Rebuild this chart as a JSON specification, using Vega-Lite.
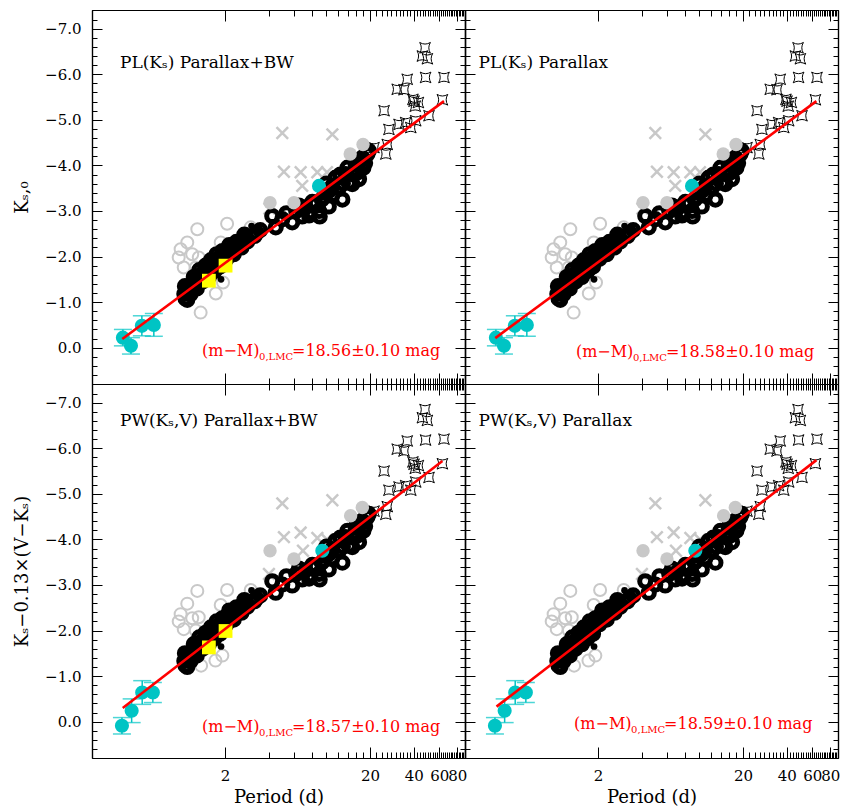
{
"$schema":"https://vega.github.io/schema/vega-lite/v6.json",
"background":"white",
"padding":{"left":13,"top":9,"right":1,"bottom":2},
"config":{"font":"DejaVu Serif","view":{"stroke":null},
 "axis":{"domainColor":"black","domainWidth":1.2,"tickColor":"black","tickWidth":1,"labelColor":"black","titleColor":"black","labelFont":"DejaVu Serif","titleFont":"DejaVu Serif","titleFontWeight":"normal","grid":false,"labelOverlap":false,"labelFlush":false,"labelFontSize":15,"titleFontSize":18}},
"datasets":{
"top":[
{"t":"s","P":47.9,"M":-6.58},{"t":"s","P":45.9,"M":-6.40},{"t":"s","P":49.7,"M":-6.34},{"t":"s","P":48.3,"M":-5.93},{"t":"s","P":64.7,"M":-5.93},{"t":"s","P":36.1,"M":-5.89},{"t":"s","P":30.8,"M":-5.67},{"t":"s","P":34.3,"M":-5.66},{"t":"s","P":40.2,"M":-5.41},{"t":"s","P":43.1,"M":-5.38},{"t":"s","P":63.1,"M":-5.44},{"t":"s","P":25.0,"M":-5.20},{"t":"s","P":31.7,"M":-4.90},{"t":"s","P":35.2,"M":-4.94},{"t":"s","P":38.2,"M":-4.83},{"t":"s","P":27.0,"M":-4.79},{"t":"s","P":51.0,"M":-5.09},{"t":"s","P":41.3,"M":-4.98},{"t":"s","P":21.3,"M":-4.39},{"t":"s","P":26.3,"M":-4.46},{"t":"s","P":25.7,"M":-4.25},{"t":"s","P":41.0,"M":-5.30},{"t":"s","P":39.5,"M":-5.45},
{"t":"o","P":1.29,"M":-2.60},{"t":"o","P":2.07,"M":-2.72},{"t":"o","P":1.87,"M":-2.31},{"t":"o","P":3.01,"M":-2.64},{"t":"o","P":0.99,"M":-2.16},{"t":"o","P":0.96,"M":-1.98},{"t":"o","P":1.10,"M":-2.31},{"t":"o","P":1.19,"M":-2.05},{"t":"o","P":1.32,"M":-1.98},{"t":"o","P":1.04,"M":-1.76},{"t":"o","P":1.26,"M":-1.76},{"t":"o","P":1.94,"M":-1.43},{"t":"o","P":1.73,"M":-1.19},{"t":"o","P":1.36,"M":-0.77},
{"t":"x","P":4.97,"M":-4.71},{"t":"x","P":11.0,"M":-4.68},{"t":"x","P":5.1,"M":-3.86},{"t":"x","P":6.65,"M":-3.85},{"t":"x","P":8.67,"M":-3.85},{"t":"x","P":10.1,"M":-3.85},{"t":"x","P":6.82,"M":-3.55},{"t":"x","P":4.05,"M":-3.05},
{"t":"k","P":1.05,"M":-1.18},{"t":"k","P":1.07,"M":-1.08},{"t":"k","P":1.09,"M":-1.30},{"t":"k","P":1.12,"M":-1.20},{"t":"k","P":1.15,"M":-1.36},{"t":"k","P":1.18,"M":-1.26},{"t":"k","P":1.21,"M":-1.42},{"t":"k","P":1.24,"M":-1.33},{"t":"k","P":1.27,"M":-1.50},{"t":"k","P":1.30,"M":-1.42},{"t":"k","P":1.34,"M":-1.58},{"t":"k","P":1.37,"M":-1.50},{"t":"k","P":1.41,"M":-1.64},{"t":"k","P":1.45,"M":-1.57},{"t":"k","P":1.49,"M":-1.72},{"t":"k","P":1.53,"M":-1.65},{"t":"k","P":1.58,"M":-1.80},{"t":"k","P":1.62,"M":-1.74},{"t":"k","P":1.67,"M":-1.87},{"t":"k","P":1.72,"M":-1.80},{"t":"k","P":1.77,"M":-1.94},{"t":"k","P":1.83,"M":-1.88},{"t":"k","P":1.89,"M":-2.01},{"t":"k","P":1.95,"M":-1.96},{"t":"k","P":2.02,"M":-2.10},{"t":"k","P":2.10,"M":-2.06},{"t":"k","P":2.18,"M":-2.16},{"t":"k","P":2.27,"M":-2.13},{"t":"k","P":2.36,"M":-2.22},{"t":"k","P":2.46,"M":-2.20},{"t":"k","P":2.56,"M":-2.30},{"t":"k","P":2.67,"M":-2.36},{"t":"k","P":2.78,"M":-2.42},{"t":"k","P":2.85,"M":-2.33},
{"t":"k","P":1.06,"M":-1.35},{"t":"k","P":1.10,"M":-1.05},{"t":"k","P":1.16,"M":-1.18},{"t":"k","P":1.22,"M":-1.55},{"t":"k","P":1.28,"M":-1.30},{"t":"k","P":1.33,"M":-1.70},{"t":"k","P":1.40,"M":-1.45},{"t":"k","P":1.47,"M":-1.80},{"t":"k","P":1.55,"M":-1.55},{"t":"k","P":1.60,"M":-1.92},{"t":"k","P":1.70,"M":-1.68},{"t":"k","P":1.75,"M":-2.05},{"t":"k","P":1.85,"M":-1.78},{"t":"k","P":1.92,"M":-2.12},{"t":"k","P":2.05,"M":-1.95},{"t":"k","P":2.14,"M":-2.25},{"t":"k","P":2.30,"M":-2.05},{"t":"k","P":2.40,"M":-2.32},{"t":"k","P":2.60,"M":-2.20},{"t":"k","P":2.72,"M":-2.48},
{"t":"d","P":1.88,"M":-1.50},{"t":"d","P":3.05,"M":-2.67},
{"t":"k","P":3.2,"M":-2.45},{"t":"k","P":3.3,"M":-2.52},{"t":"k","P":3.5,"M":-2.58},{"t":"k","P":4.24,"M":-2.89},{"t":"k","P":4.48,"M":-2.64},{"t":"k","P":4.97,"M":-2.82},{"t":"k","P":5.3,"M":-2.95},{"t":"k","P":5.82,"M":-2.75},{"t":"k","P":6.2,"M":-3.00},{"t":"k","P":6.47,"M":-3.12},{"t":"k","P":6.82,"M":-2.88},{"t":"k","P":7.2,"M":-3.08},{"t":"k","P":7.59,"M":-2.97},{"t":"k","P":8.0,"M":-3.20},{"t":"k","P":8.45,"M":-3.15},{"t":"k","P":7.6,"M":-2.90},{"t":"k","P":9.0,"M":-2.88},{"t":"k","P":8.9,"M":-3.00},{"t":"k","P":9.3,"M":-3.25},{"t":"k","P":9.8,"M":-3.40},{"t":"k","P":10.4,"M":-3.44},{"t":"k","P":10.4,"M":-3.10},{"t":"k","P":11.0,"M":-3.55},{"t":"k","P":11.6,"M":-3.73},{"t":"k","P":12.2,"M":-3.51},{"t":"k","P":12.9,"M":-3.25},{"t":"k","P":13.6,"M":-3.81},{"t":"k","P":14.3,"M":-3.62},{"t":"k","P":15.1,"M":-3.59},{"t":"k","P":15.9,"M":-4.03},{"t":"k","P":16.5,"M":-3.85},{"t":"k","P":17.2,"M":-4.10},{"t":"k","P":17.7,"M":-4.17},{"t":"k","P":18.5,"M":-4.05},{"t":"k","P":19.2,"M":-4.25},{"t":"k","P":19.6,"M":-4.32},{"t":"k","P":14.0,"M":-3.95},{"t":"k","P":12.5,"M":-3.80},{"t":"k","P":11.0,"M":-3.35},{"t":"k","P":16.8,"M":-3.70},{"t":"k","P":10.0,"M":-3.60},{"t":"k","P":13.0,"M":-3.60},{"t":"k","P":15.5,"M":-3.80},{"t":"k","P":18.0,"M":-3.95},
{"t":"g","P":4.09,"M":-3.18},{"t":"g","P":5.98,"M":-3.18},{"t":"g","P":14.6,"M":-4.25},{"t":"g","P":17.9,"M":-4.46},
{"t":"y","P":2.02,"M":-1.80},{"t":"y","P":1.55,"M":-1.47},
{"t":"c","P":0.396,"M":-0.22,"lo":-0.40,"hi":-0.04},{"t":"c","P":0.45,"M":-0.04,"lo":-0.22,"hi":0.14},{"t":"c","P":0.535,"M":-0.48,"lo":-0.70,"hi":-0.26},{"t":"c","P":0.647,"M":-0.50,"lo":-0.75,"hi":-0.25},{"t":"c","P":8.9,"M":-3.55}
],
"bot":[
{"t":"s","P":47.9,"M":-6.85},{"t":"s","P":45.9,"M":-6.67},{"t":"s","P":49.7,"M":-6.61},{"t":"s","P":48.3,"M":-6.18},{"t":"s","P":64.7,"M":-6.20},{"t":"s","P":36.1,"M":-6.16},{"t":"s","P":30.8,"M":-5.98},{"t":"s","P":34.3,"M":-5.94},{"t":"s","P":40.2,"M":-5.65},{"t":"s","P":43.1,"M":-5.62},{"t":"s","P":63.1,"M":-5.66},{"t":"s","P":25.0,"M":-5.50},{"t":"s","P":31.7,"M":-5.15},{"t":"s","P":35.2,"M":-5.18},{"t":"s","P":38.2,"M":-5.08},{"t":"s","P":27.0,"M":-5.08},{"t":"s","P":51.0,"M":-5.36},{"t":"s","P":41.3,"M":-5.26},{"t":"s","P":21.3,"M":-4.62},{"t":"s","P":26.3,"M":-4.72},{"t":"s","P":25.7,"M":-4.55},{"t":"s","P":41.0,"M":-5.56},{"t":"s","P":39.5,"M":-5.70},
{"t":"o","P":1.29,"M":-2.87},{"t":"o","P":2.07,"M":-2.89},{"t":"o","P":1.87,"M":-2.56},{"t":"o","P":3.01,"M":-2.89},{"t":"o","P":0.99,"M":-2.36},{"t":"o","P":0.96,"M":-2.20},{"t":"o","P":1.10,"M":-2.59},{"t":"o","P":1.19,"M":-2.27},{"t":"o","P":1.32,"M":-2.29},{"t":"o","P":1.04,"M":-2.03},{"t":"o","P":1.26,"M":-2.00},{"t":"o","P":1.92,"M":-1.45},{"t":"o","P":1.72,"M":-1.34},{"t":"o","P":1.37,"M":-1.23},
{"t":"x","P":4.97,"M":-4.79},{"t":"x","P":11.0,"M":-4.86},{"t":"x","P":5.1,"M":-4.05},{"t":"x","P":6.65,"M":-4.15},{"t":"x","P":8.67,"M":-4.03},{"t":"x","P":10.1,"M":-4.00},{"t":"x","P":4.02,"M":-3.24},{"t":"x","P":6.9,"M":-3.75},
{"t":"k","P":1.05,"M":-1.33},{"t":"k","P":1.07,"M":-1.23},{"t":"k","P":1.09,"M":-1.45},{"t":"k","P":1.12,"M":-1.35},{"t":"k","P":1.15,"M":-1.51},{"t":"k","P":1.18,"M":-1.41},{"t":"k","P":1.21,"M":-1.57},{"t":"k","P":1.24,"M":-1.48},{"t":"k","P":1.27,"M":-1.65},{"t":"k","P":1.30,"M":-1.57},{"t":"k","P":1.34,"M":-1.73},{"t":"k","P":1.37,"M":-1.65},{"t":"k","P":1.41,"M":-1.79},{"t":"k","P":1.45,"M":-1.72},{"t":"k","P":1.49,"M":-1.87},{"t":"k","P":1.53,"M":-1.80},{"t":"k","P":1.58,"M":-1.95},{"t":"k","P":1.62,"M":-1.89},{"t":"k","P":1.67,"M":-2.02},{"t":"k","P":1.72,"M":-1.95},{"t":"k","P":1.77,"M":-2.09},{"t":"k","P":1.83,"M":-2.03},{"t":"k","P":1.89,"M":-2.16},{"t":"k","P":1.95,"M":-2.11},{"t":"k","P":2.02,"M":-2.29},{"t":"k","P":2.10,"M":-2.25},{"t":"k","P":2.18,"M":-2.35},{"t":"k","P":2.27,"M":-2.32},{"t":"k","P":2.36,"M":-2.41},{"t":"k","P":2.46,"M":-2.39},{"t":"k","P":2.56,"M":-2.49},{"t":"k","P":2.67,"M":-2.55},{"t":"k","P":2.78,"M":-2.61},{"t":"k","P":2.85,"M":-2.52},
{"t":"k","P":1.06,"M":-1.50},{"t":"k","P":1.10,"M":-1.20},{"t":"k","P":1.16,"M":-1.33},{"t":"k","P":1.22,"M":-1.70},{"t":"k","P":1.28,"M":-1.45},{"t":"k","P":1.33,"M":-1.85},{"t":"k","P":1.40,"M":-1.60},{"t":"k","P":1.47,"M":-1.95},{"t":"k","P":1.55,"M":-1.70},{"t":"k","P":1.60,"M":-2.07},{"t":"k","P":1.70,"M":-1.83},{"t":"k","P":1.75,"M":-2.20},{"t":"k","P":1.85,"M":-1.93},{"t":"k","P":1.92,"M":-2.27},{"t":"k","P":2.05,"M":-2.14},{"t":"k","P":2.14,"M":-2.44},{"t":"k","P":2.30,"M":-2.24},{"t":"k","P":2.40,"M":-2.51},{"t":"k","P":2.60,"M":-2.39},{"t":"k","P":2.72,"M":-2.67},
{"t":"d","P":1.88,"M":-1.65},{"t":"d","P":3.05,"M":-2.88},
{"t":"k","P":3.2,"M":-2.64},{"t":"k","P":3.3,"M":-2.71},{"t":"k","P":3.5,"M":-2.77},{"t":"k","P":4.24,"M":-3.08},{"t":"k","P":4.48,"M":-2.83},{"t":"k","P":4.97,"M":-3.01},{"t":"k","P":5.3,"M":-3.19},{"t":"k","P":5.82,"M":-2.99},{"t":"k","P":6.2,"M":-3.24},{"t":"k","P":6.47,"M":-3.36},{"t":"k","P":6.82,"M":-3.12},{"t":"k","P":7.2,"M":-3.32},{"t":"k","P":7.59,"M":-3.21},{"t":"k","P":8.0,"M":-3.44},{"t":"k","P":8.45,"M":-3.39},{"t":"k","P":7.6,"M":-3.14},{"t":"k","P":9.0,"M":-3.12},{"t":"k","P":8.9,"M":-3.24},{"t":"k","P":9.3,"M":-3.49},{"t":"k","P":9.8,"M":-3.64},{"t":"k","P":10.4,"M":-3.68},{"t":"k","P":10.4,"M":-3.34},{"t":"k","P":11.0,"M":-3.79},{"t":"k","P":11.6,"M":-3.97},{"t":"k","P":12.2,"M":-3.75},{"t":"k","P":12.9,"M":-3.49},{"t":"k","P":13.6,"M":-4.05},{"t":"k","P":14.3,"M":-3.86},{"t":"k","P":15.1,"M":-3.83},{"t":"k","P":15.9,"M":-4.27},{"t":"k","P":16.5,"M":-4.09},{"t":"k","P":17.2,"M":-4.34},{"t":"k","P":17.7,"M":-4.41},{"t":"k","P":18.5,"M":-4.29},{"t":"k","P":19.2,"M":-4.49},{"t":"k","P":19.6,"M":-4.56},{"t":"k","P":14.0,"M":-4.19},{"t":"k","P":12.5,"M":-4.04},{"t":"k","P":11.0,"M":-3.59},{"t":"k","P":16.8,"M":-3.94},{"t":"k","P":10.0,"M":-3.84},{"t":"k","P":13.0,"M":-3.84},{"t":"k","P":15.5,"M":-4.04},{"t":"k","P":18.0,"M":-4.19},
{"t":"g","P":4.09,"M":-3.75},{"t":"g","P":5.98,"M":-3.57},{"t":"g","P":14.7,"M":-4.52},{"t":"g","P":17.7,"M":-4.70},
{"t":"y","P":2.02,"M":-1.99},{"t":"y","P":1.55,"M":-1.63},
{"t":"c","P":0.39,"M":0.09,"lo":-0.09,"hi":0.27},{"t":"c","P":0.455,"M":-0.24,"lo":-0.50,"hi":0.02},{"t":"c","P":0.538,"M":-0.64,"lo":-0.90,"hi":-0.38},{"t":"c","P":0.637,"M":-0.64,"lo":-0.86,"hi":-0.42},{"t":"c","P":9.38,"M":-3.75}
],
"lines":[
{"panel":"TL","P":0.392,"M":-0.19},{"panel":"TL","P":64.7,"M":-5.41},
{"panel":"TR","P":0.392,"M":-0.21},{"panel":"TR","P":64.1,"M":-5.41},
{"panel":"BL","P":0.395,"M":-0.30},{"panel":"BL","P":63.1,"M":-5.72},
{"panel":"BR","P":0.40,"M":-0.33},{"panel":"BR","P":64.1,"M":-5.74}
],
"labels":[
{"panel":"TL","kind":"title","P":0.378,"M":-6.14,"txt":"PL(Kₛ) Parallax+BW"},
{"panel":"TR","kind":"title","P":0.301,"M":-6.14,"txt":"PL(Kₛ) Parallax"},
{"panel":"BL","kind":"title","P":0.378,"M":-6.49,"txt":"PW(Kₛ,V) Parallax+BW"},
{"panel":"BR","kind":"title","P":0.301,"M":-6.49,"txt":"PW(Kₛ,V) Parallax"},
{"panel":"TL","kind":"a","P":1.39,"M":0.18,"txt":"(m−M)"},
{"panel":"TL","kind":"b","P":1.39,"M":0.18,"txt":"0,LMC"},
{"panel":"TL","kind":"c","P":1.39,"M":0.18,"txt":"=18.56±0.10 mag"},
{"panel":"TR","kind":"a","P":1.41,"M":0.20,"txt":"(m−M)"},
{"panel":"TR","kind":"b","P":1.41,"M":0.20,"txt":"0,LMC"},
{"panel":"TR","kind":"c","P":1.41,"M":0.20,"txt":"=18.58±0.10 mag"},
{"panel":"BL","kind":"a","P":1.39,"M":0.22,"txt":"(m−M)"},
{"panel":"BL","kind":"b","P":1.39,"M":0.22,"txt":"0,LMC"},
{"panel":"BL","kind":"c","P":1.39,"M":0.22,"txt":"=18.57±0.10 mag"},
{"panel":"BR","kind":"a","P":1.37,"M":0.16,"txt":"(m−M)"},
{"panel":"BR","kind":"b","P":1.37,"M":0.16,"txt":"0,LMC"},
{"panel":"BR","kind":"c","P":1.37,"M":0.16,"txt":"=18.59±0.10 mag"}
]
},
"columns":2,
"spacing":0,
"bounds":"flush",
"concat":[
{"width":373,"height":374,
 "encoding":{"x":{"field":"P","type":"quantitative","scale":{"type":"log","domain":[0.2425,90.3],"nice":false},"axis":null},"y":{"field":"M","type":"quantitative","scale":{"domain":[-7.41,0.797],"reverse":true,"nice":false,"zero":false},"axis":null}},
 "layer":[
  {"data":{"name":"top"},"transform":[{"filter":"datum.t==='s'"}],"mark":{"type":"point","shape":"M -1 -1 Q 0 -0.4 1 -1 Q 0.4 0 1 1 Q 0 0.4 -1 1 Q -0.4 0 -1 -1 Z","filled":false,"color":"black","strokeWidth":1,"size":115,"opacity":1},
   "encoding":{"x":{"field":"P","type":"quantitative","scale":{"type":"log","domain":[0.2425,90.3],"nice":false},"axis":{"orient":"bottom","values":[2,20,40,60,80],"tickSize":-11,"labels":false,"title":null}},
    "y":{"field":"M","type":"quantitative","scale":{"domain":[-7.41,0.797],"reverse":true,"nice":false,"zero":false},"axis":{"orient":"left","values":[-7,-6,-5,-4,-3,-2,-1,0],"tickSize":-10,"format":".1f","labelPadding":21,"title":"Kₛ,₀","titlePadding":13}}}},
  {"data":{"name":"top"},"transform":[{"filter":"datum.t==='o'"}],"mark":{"type":"point","shape":"circle","filled":false,"color":"#c8c8c8","strokeWidth":2,"size":144,"opacity":1},
   "encoding":{"x":{"field":"P","type":"quantitative","scale":{"type":"log","domain":[0.2425,90.3],"nice":false},"axis":{"orient":"top","values":[2,20,40,60,80],"tickSize":-11,"labels":false,"title":null}},
    "y":{"field":"M","type":"quantitative","scale":{"domain":[-7.41,0.797],"reverse":true,"nice":false,"zero":false},"axis":{"orient":"right","values":[-7,-6,-5,-4,-3,-2,-1,0],"tickSize":-10,"labels":false,"title":null}}}},
  {"data":{"name":"top"},"transform":[{"filter":"datum.t==='x'"}],"mark":{"type":"point","shape":"M -1 -1 L 1 1 M -1 1 L 1 -1","filled":false,"color":"#c8c8c8","strokeWidth":2.5,"size":135,"opacity":1},
   "encoding":{"x":{"field":"P","type":"quantitative","scale":{"type":"log","domain":[0.2425,90.3],"nice":false},"axis":{"orient":"bottom","values":[4,6,8,10,12,14,16,18,22,24,26,28,30,32,34,36,38,42,44,46,48,50,52,54,56,58,62,64,66,68,70,72,74,76,78,82,84,86,88],"tickSize":-6,"labels":false,"title":null}},
    "y":{"field":"M","type":"quantitative","scale":{"domain":[-7.41,0.797],"reverse":true,"nice":false,"zero":false},"axis":{"orient":"left","values":[-7.4,-7.2,-6.8,-6.6,-6.4,-6.2,-5.8,-5.6,-5.4,-5.2,-4.8,-4.6,-4.4,-4.2,-3.8,-3.6,-3.4,-3.2,-2.8,-2.6,-2.4,-2.2,-1.8,-1.6,-1.4,-1.2,-0.8,-0.6,-0.4,-0.2,0.2,0.4,0.6],"tickSize":-5,"labels":false,"title":null}}}},
  {"data":{"name":"top"},"transform":[{"filter":"datum.t==='k'"}],"mark":{"type":"point","shape":"circle","filled":false,"color":"black","strokeWidth":5,"size":125,"opacity":1},
   "encoding":{"x":{"field":"P","type":"quantitative","scale":{"type":"log","domain":[0.2425,90.3],"nice":false},"axis":{"orient":"top","values":[4,6,8,10,12,14,16,18,22,24,26,28,30,32,34,36,38,42,44,46,48,50,52,54,56,58,62,64,66,68,70,72,74,76,78,82,84,86,88],"tickSize":-6,"labels":false,"title":null}},
    "y":{"field":"M","type":"quantitative","scale":{"domain":[-7.41,0.797],"reverse":true,"nice":false,"zero":false},"axis":{"orient":"right","values":[-7.4,-7.2,-6.8,-6.6,-6.4,-6.2,-5.8,-5.6,-5.4,-5.2,-4.8,-4.6,-4.4,-4.2,-3.8,-3.6,-3.4,-3.2,-2.8,-2.6,-2.4,-2.2,-1.8,-1.6,-1.4,-1.2,-0.8,-0.6,-0.4,-0.2,0.2,0.4,0.6],"tickSize":-5,"labels":false,"title":null}}}},
  {"data":{"name":"top"},"transform":[{"filter":"datum.t==='d'"}],"mark":{"type":"circle","color":"black","size":45,"opacity":1}},
  {"data":{"name":"top"},"transform":[{"filter":"datum.t==='g'"}],"mark":{"type":"circle","color":"#c8c8c8","size":180,"opacity":1}},
  {"data":{"name":"top"},"transform":[{"filter":"datum.t==='y'"}],"mark":{"type":"square","color":"#ffff00","size":190,"opacity":1}},
  {"data":{"name":"top"},"transform":[{"filter":"datum.t==='c' && isValid(datum.lo)"}],"mark":{"type":"rule","color":"#00c4c4","strokeWidth":1.5},"encoding":{"y":{"field":"lo","type":"quantitative","scale":{"domain":[-7.41,0.797],"reverse":true,"nice":false,"zero":false},"axis":null},"y2":{"field":"hi"}}},
  {"data":{"name":"top"},"transform":[{"filter":"datum.t==='c' && isValid(datum.lo)"}],"mark":{"type":"tick","orient":"horizontal","color":"#00c4c4","size":18,"thickness":1.5},"encoding":{"y":{"field":"lo","type":"quantitative","scale":{"domain":[-7.41,0.797],"reverse":true,"nice":false,"zero":false},"axis":null}}},
  {"data":{"name":"top"},"transform":[{"filter":"datum.t==='c' && isValid(datum.lo)"}],"mark":{"type":"tick","orient":"horizontal","color":"#00c4c4","size":18,"thickness":1.5},"encoding":{"y":{"field":"hi","type":"quantitative","scale":{"domain":[-7.41,0.797],"reverse":true,"nice":false,"zero":false},"axis":null}}},
  {"data":{"name":"top"},"transform":[{"filter":"datum.t==='c'"}],"mark":{"type":"circle","color":"#00c4c4","size":200,"opacity":1}},
  {"data":{"name":"lines"},"transform":[{"filter":"datum.panel==='TL'"}],"mark":{"type":"line","color":"#ff0000","strokeWidth":2.6}},
  {"data":{"name":"labels"},"transform":[{"filter":"datum.panel==='TL' && datum.kind==='title'"}],"mark":{"type":"text","align":"left","baseline":"alphabetic","fontSize":17,"font":"DejaVu Serif","color":"black"},"encoding":{"text":{"field":"txt"}}},
  {"data":{"name":"labels"},"transform":[{"filter":"datum.panel==='TL' && datum.kind==='a'"}],"mark":{"type":"text","align":"left","baseline":"alphabetic","fontSize":16,"font":"DejaVu Serif","color":"#ff0000"},"encoding":{"text":{"field":"txt"}}},
  {"data":{"name":"labels"},"transform":[{"filter":"datum.panel==='TL' && datum.kind==='b'"}],"mark":{"type":"text","align":"left","baseline":"alphabetic","fontSize":10,"font":"DejaVu Serif","color":"#ff0000","dx":57,"dy":4},"encoding":{"text":{"field":"txt"}}},
  {"data":{"name":"labels"},"transform":[{"filter":"datum.panel==='TL' && datum.kind==='c'"}],"mark":{"type":"text","align":"left","baseline":"alphabetic","fontSize":16,"font":"DejaVu Serif","color":"#ff0000","dx":90},"encoding":{"text":{"field":"txt"}}}
 ],
 "resolve":{"axis":{"x":"independent","y":"independent"}}},
{"width":373,"height":374,
 "encoding":{"x":{"field":"P","type":"quantitative","scale":{"type":"log","domain":[0.2425,90.3],"nice":false},"axis":null},"y":{"field":"M","type":"quantitative","scale":{"domain":[-7.41,0.797],"reverse":true,"nice":false,"zero":false},"axis":null}},
 "layer":[
  {"data":{"name":"top"},"transform":[{"filter":"datum.t==='s'"}],"mark":{"type":"point","shape":"M -1 -1 Q 0 -0.4 1 -1 Q 0.4 0 1 1 Q 0 0.4 -1 1 Q -0.4 0 -1 -1 Z","filled":false,"color":"black","strokeWidth":1,"size":115,"opacity":1},
   "encoding":{"x":{"field":"P","type":"quantitative","scale":{"type":"log","domain":[0.2425,90.3],"nice":false},"axis":{"orient":"bottom","values":[2,20,40,60,80],"tickSize":-11,"labels":false,"title":null}},
    "y":{"field":"M","type":"quantitative","scale":{"domain":[-7.41,0.797],"reverse":true,"nice":false,"zero":false},"axis":{"orient":"left","values":[-7,-6,-5,-4,-3,-2,-1,0],"tickSize":-10,"labels":false,"title":null}}}},
  {"data":{"name":"top"},"transform":[{"filter":"datum.t==='o'"}],"mark":{"type":"point","shape":"circle","filled":false,"color":"#c8c8c8","strokeWidth":2,"size":144,"opacity":1},
   "encoding":{"x":{"field":"P","type":"quantitative","scale":{"type":"log","domain":[0.2425,90.3],"nice":false},"axis":{"orient":"top","values":[2,20,40,60,80],"tickSize":-11,"labels":false,"title":null}},
    "y":{"field":"M","type":"quantitative","scale":{"domain":[-7.41,0.797],"reverse":true,"nice":false,"zero":false},"axis":{"orient":"right","values":[-7,-6,-5,-4,-3,-2,-1,0],"tickSize":-10,"labels":false,"title":null}}}},
  {"data":{"name":"top"},"transform":[{"filter":"datum.t==='x'"}],"mark":{"type":"point","shape":"M -1 -1 L 1 1 M -1 1 L 1 -1","filled":false,"color":"#c8c8c8","strokeWidth":2.5,"size":135,"opacity":1},
   "encoding":{"x":{"field":"P","type":"quantitative","scale":{"type":"log","domain":[0.2425,90.3],"nice":false},"axis":{"orient":"bottom","values":[4,6,8,10,12,14,16,18,22,24,26,28,30,32,34,36,38,42,44,46,48,50,52,54,56,58,62,64,66,68,70,72,74,76,78,82,84,86,88],"tickSize":-6,"labels":false,"title":null}},
    "y":{"field":"M","type":"quantitative","scale":{"domain":[-7.41,0.797],"reverse":true,"nice":false,"zero":false},"axis":{"orient":"left","values":[-7.4,-7.2,-6.8,-6.6,-6.4,-6.2,-5.8,-5.6,-5.4,-5.2,-4.8,-4.6,-4.4,-4.2,-3.8,-3.6,-3.4,-3.2,-2.8,-2.6,-2.4,-2.2,-1.8,-1.6,-1.4,-1.2,-0.8,-0.6,-0.4,-0.2,0.2,0.4,0.6],"tickSize":-5,"labels":false,"title":null}}}},
  {"data":{"name":"top"},"transform":[{"filter":"datum.t==='k'"}],"mark":{"type":"point","shape":"circle","filled":false,"color":"black","strokeWidth":5,"size":125,"opacity":1},
   "encoding":{"x":{"field":"P","type":"quantitative","scale":{"type":"log","domain":[0.2425,90.3],"nice":false},"axis":{"orient":"top","values":[4,6,8,10,12,14,16,18,22,24,26,28,30,32,34,36,38,42,44,46,48,50,52,54,56,58,62,64,66,68,70,72,74,76,78,82,84,86,88],"tickSize":-6,"labels":false,"title":null}},
    "y":{"field":"M","type":"quantitative","scale":{"domain":[-7.41,0.797],"reverse":true,"nice":false,"zero":false},"axis":{"orient":"right","values":[-7.4,-7.2,-6.8,-6.6,-6.4,-6.2,-5.8,-5.6,-5.4,-5.2,-4.8,-4.6,-4.4,-4.2,-3.8,-3.6,-3.4,-3.2,-2.8,-2.6,-2.4,-2.2,-1.8,-1.6,-1.4,-1.2,-0.8,-0.6,-0.4,-0.2,0.2,0.4,0.6],"tickSize":-5,"labels":false,"title":null}}}},
  {"data":{"name":"top"},"transform":[{"filter":"datum.t==='d'"}],"mark":{"type":"circle","color":"black","size":45,"opacity":1}},
  {"data":{"name":"top"},"transform":[{"filter":"datum.t==='g'"}],"mark":{"type":"circle","color":"#c8c8c8","size":180,"opacity":1}},
  {"data":{"name":"top"},"transform":[{"filter":"datum.t==='c' && isValid(datum.lo)"}],"mark":{"type":"rule","color":"#00c4c4","strokeWidth":1.5},"encoding":{"y":{"field":"lo","type":"quantitative","scale":{"domain":[-7.41,0.797],"reverse":true,"nice":false,"zero":false},"axis":null},"y2":{"field":"hi"}}},
  {"data":{"name":"top"},"transform":[{"filter":"datum.t==='c' && isValid(datum.lo)"}],"mark":{"type":"tick","orient":"horizontal","color":"#00c4c4","size":18,"thickness":1.5},"encoding":{"y":{"field":"lo","type":"quantitative","scale":{"domain":[-7.41,0.797],"reverse":true,"nice":false,"zero":false},"axis":null}}},
  {"data":{"name":"top"},"transform":[{"filter":"datum.t==='c' && isValid(datum.lo)"}],"mark":{"type":"tick","orient":"horizontal","color":"#00c4c4","size":18,"thickness":1.5},"encoding":{"y":{"field":"hi","type":"quantitative","scale":{"domain":[-7.41,0.797],"reverse":true,"nice":false,"zero":false},"axis":null}}},
  {"data":{"name":"top"},"transform":[{"filter":"datum.t==='c'"}],"mark":{"type":"circle","color":"#00c4c4","size":200,"opacity":1}},
  {"data":{"name":"lines"},"transform":[{"filter":"datum.panel==='TR'"}],"mark":{"type":"line","color":"#ff0000","strokeWidth":2.6}},
  {"data":{"name":"labels"},"transform":[{"filter":"datum.panel==='TR' && datum.kind==='title'"}],"mark":{"type":"text","align":"left","baseline":"alphabetic","fontSize":17,"font":"DejaVu Serif","color":"black"},"encoding":{"text":{"field":"txt"}}},
  {"data":{"name":"labels"},"transform":[{"filter":"datum.panel==='TR' && datum.kind==='a'"}],"mark":{"type":"text","align":"left","baseline":"alphabetic","fontSize":16,"font":"DejaVu Serif","color":"#ff0000"},"encoding":{"text":{"field":"txt"}}},
  {"data":{"name":"labels"},"transform":[{"filter":"datum.panel==='TR' && datum.kind==='b'"}],"mark":{"type":"text","align":"left","baseline":"alphabetic","fontSize":10,"font":"DejaVu Serif","color":"#ff0000","dx":57,"dy":4},"encoding":{"text":{"field":"txt"}}},
  {"data":{"name":"labels"},"transform":[{"filter":"datum.panel==='TR' && datum.kind==='c'"}],"mark":{"type":"text","align":"left","baseline":"alphabetic","fontSize":16,"font":"DejaVu Serif","color":"#ff0000","dx":90},"encoding":{"text":{"field":"txt"}}}
 ],
 "resolve":{"axis":{"x":"independent","y":"independent"}}},
{"width":373,"height":374,
 "encoding":{"x":{"field":"P","type":"quantitative","scale":{"type":"log","domain":[0.2425,90.3],"nice":false},"axis":null},"y":{"field":"M","type":"quantitative","scale":{"domain":[-7.41,0.797],"reverse":true,"nice":false,"zero":false},"axis":null}},
 "layer":[
  {"data":{"name":"bot"},"transform":[{"filter":"datum.t==='s'"}],"mark":{"type":"point","shape":"M -1 -1 Q 0 -0.4 1 -1 Q 0.4 0 1 1 Q 0 0.4 -1 1 Q -0.4 0 -1 -1 Z","filled":false,"color":"black","strokeWidth":1,"size":115,"opacity":1},
   "encoding":{"x":{"field":"P","type":"quantitative","scale":{"type":"log","domain":[0.2425,90.3],"nice":false},"axis":{"orient":"bottom","values":[2,20,40,60,80],"tickSize":-11,"format":"d","labelPadding":21,"title":"Period (d)","titlePadding":5}},
    "y":{"field":"M","type":"quantitative","scale":{"domain":[-7.41,0.797],"reverse":true,"nice":false,"zero":false},"axis":{"orient":"left","values":[-7,-6,-5,-4,-3,-2,-1,0],"tickSize":-10,"format":".1f","labelPadding":21,"title":"Kₛ−0.13×(V−Kₛ)","titlePadding":13}}}},
  {"data":{"name":"bot"},"transform":[{"filter":"datum.t==='o'"}],"mark":{"type":"point","shape":"circle","filled":false,"color":"#c8c8c8","strokeWidth":2,"size":144,"opacity":1},
   "encoding":{"x":{"field":"P","type":"quantitative","scale":{"type":"log","domain":[0.2425,90.3],"nice":false},"axis":{"orient":"top","values":[2,20,40,60,80],"tickSize":-11,"labels":false,"title":null}},
    "y":{"field":"M","type":"quantitative","scale":{"domain":[-7.41,0.797],"reverse":true,"nice":false,"zero":false},"axis":{"orient":"right","values":[-7,-6,-5,-4,-3,-2,-1,0],"tickSize":-10,"labels":false,"title":null}}}},
  {"data":{"name":"bot"},"transform":[{"filter":"datum.t==='x'"}],"mark":{"type":"point","shape":"M -1 -1 L 1 1 M -1 1 L 1 -1","filled":false,"color":"#c8c8c8","strokeWidth":2.5,"size":135,"opacity":1},
   "encoding":{"x":{"field":"P","type":"quantitative","scale":{"type":"log","domain":[0.2425,90.3],"nice":false},"axis":{"orient":"bottom","values":[4,6,8,10,12,14,16,18,22,24,26,28,30,32,34,36,38,42,44,46,48,50,52,54,56,58,62,64,66,68,70,72,74,76,78,82,84,86,88],"tickSize":-6,"labels":false,"title":null}},
    "y":{"field":"M","type":"quantitative","scale":{"domain":[-7.41,0.797],"reverse":true,"nice":false,"zero":false},"axis":{"orient":"left","values":[-7.4,-7.2,-6.8,-6.6,-6.4,-6.2,-5.8,-5.6,-5.4,-5.2,-4.8,-4.6,-4.4,-4.2,-3.8,-3.6,-3.4,-3.2,-2.8,-2.6,-2.4,-2.2,-1.8,-1.6,-1.4,-1.2,-0.8,-0.6,-0.4,-0.2,0.2,0.4,0.6],"tickSize":-5,"labels":false,"title":null}}}},
  {"data":{"name":"bot"},"transform":[{"filter":"datum.t==='k'"}],"mark":{"type":"point","shape":"circle","filled":false,"color":"black","strokeWidth":5,"size":125,"opacity":1},
   "encoding":{"x":{"field":"P","type":"quantitative","scale":{"type":"log","domain":[0.2425,90.3],"nice":false},"axis":{"orient":"top","values":[4,6,8,10,12,14,16,18,22,24,26,28,30,32,34,36,38,42,44,46,48,50,52,54,56,58,62,64,66,68,70,72,74,76,78,82,84,86,88],"tickSize":-6,"labels":false,"title":null}},
    "y":{"field":"M","type":"quantitative","scale":{"domain":[-7.41,0.797],"reverse":true,"nice":false,"zero":false},"axis":{"orient":"right","values":[-7.4,-7.2,-6.8,-6.6,-6.4,-6.2,-5.8,-5.6,-5.4,-5.2,-4.8,-4.6,-4.4,-4.2,-3.8,-3.6,-3.4,-3.2,-2.8,-2.6,-2.4,-2.2,-1.8,-1.6,-1.4,-1.2,-0.8,-0.6,-0.4,-0.2,0.2,0.4,0.6],"tickSize":-5,"labels":false,"title":null}}}},
  {"data":{"name":"bot"},"transform":[{"filter":"datum.t==='d'"}],"mark":{"type":"circle","color":"black","size":45,"opacity":1}},
  {"data":{"name":"bot"},"transform":[{"filter":"datum.t==='g'"}],"mark":{"type":"circle","color":"#c8c8c8","size":180,"opacity":1}},
  {"data":{"name":"bot"},"transform":[{"filter":"datum.t==='y'"}],"mark":{"type":"square","color":"#ffff00","size":190,"opacity":1}},
  {"data":{"name":"bot"},"transform":[{"filter":"datum.t==='c' && isValid(datum.lo)"}],"mark":{"type":"rule","color":"#00c4c4","strokeWidth":1.5},"encoding":{"y":{"field":"lo","type":"quantitative","scale":{"domain":[-7.41,0.797],"reverse":true,"nice":false,"zero":false},"axis":null},"y2":{"field":"hi"}}},
  {"data":{"name":"bot"},"transform":[{"filter":"datum.t==='c' && isValid(datum.lo)"}],"mark":{"type":"tick","orient":"horizontal","color":"#00c4c4","size":18,"thickness":1.5},"encoding":{"y":{"field":"lo","type":"quantitative","scale":{"domain":[-7.41,0.797],"reverse":true,"nice":false,"zero":false},"axis":null}}},
  {"data":{"name":"bot"},"transform":[{"filter":"datum.t==='c' && isValid(datum.lo)"}],"mark":{"type":"tick","orient":"horizontal","color":"#00c4c4","size":18,"thickness":1.5},"encoding":{"y":{"field":"hi","type":"quantitative","scale":{"domain":[-7.41,0.797],"reverse":true,"nice":false,"zero":false},"axis":null}}},
  {"data":{"name":"bot"},"transform":[{"filter":"datum.t==='c'"}],"mark":{"type":"circle","color":"#00c4c4","size":200,"opacity":1}},
  {"data":{"name":"lines"},"transform":[{"filter":"datum.panel==='BL'"}],"mark":{"type":"line","color":"#ff0000","strokeWidth":2.6}},
  {"data":{"name":"labels"},"transform":[{"filter":"datum.panel==='BL' && datum.kind==='title'"}],"mark":{"type":"text","align":"left","baseline":"alphabetic","fontSize":17,"font":"DejaVu Serif","color":"black"},"encoding":{"text":{"field":"txt"}}},
  {"data":{"name":"labels"},"transform":[{"filter":"datum.panel==='BL' && datum.kind==='a'"}],"mark":{"type":"text","align":"left","baseline":"alphabetic","fontSize":16,"font":"DejaVu Serif","color":"#ff0000"},"encoding":{"text":{"field":"txt"}}},
  {"data":{"name":"labels"},"transform":[{"filter":"datum.panel==='BL' && datum.kind==='b'"}],"mark":{"type":"text","align":"left","baseline":"alphabetic","fontSize":10,"font":"DejaVu Serif","color":"#ff0000","dx":57,"dy":4},"encoding":{"text":{"field":"txt"}}},
  {"data":{"name":"labels"},"transform":[{"filter":"datum.panel==='BL' && datum.kind==='c'"}],"mark":{"type":"text","align":"left","baseline":"alphabetic","fontSize":16,"font":"DejaVu Serif","color":"#ff0000","dx":90},"encoding":{"text":{"field":"txt"}}}
 ],
 "resolve":{"axis":{"x":"independent","y":"independent"}}},
{"width":373,"height":374,
 "encoding":{"x":{"field":"P","type":"quantitative","scale":{"type":"log","domain":[0.2425,90.3],"nice":false},"axis":null},"y":{"field":"M","type":"quantitative","scale":{"domain":[-7.41,0.797],"reverse":true,"nice":false,"zero":false},"axis":null}},
 "layer":[
  {"data":{"name":"bot"},"transform":[{"filter":"datum.t==='s'"}],"mark":{"type":"point","shape":"M -1 -1 Q 0 -0.4 1 -1 Q 0.4 0 1 1 Q 0 0.4 -1 1 Q -0.4 0 -1 -1 Z","filled":false,"color":"black","strokeWidth":1,"size":115,"opacity":1},
   "encoding":{"x":{"field":"P","type":"quantitative","scale":{"type":"log","domain":[0.2425,90.3],"nice":false},"axis":{"orient":"bottom","values":[2,20,40,60,80],"tickSize":-11,"format":"d","labelPadding":21,"title":"Period (d)","titlePadding":5}},
    "y":{"field":"M","type":"quantitative","scale":{"domain":[-7.41,0.797],"reverse":true,"nice":false,"zero":false},"axis":{"orient":"left","values":[-7,-6,-5,-4,-3,-2,-1,0],"tickSize":-10,"labels":false,"title":null}}}},
  {"data":{"name":"bot"},"transform":[{"filter":"datum.t==='o'"}],"mark":{"type":"point","shape":"circle","filled":false,"color":"#c8c8c8","strokeWidth":2,"size":144,"opacity":1},
   "encoding":{"x":{"field":"P","type":"quantitative","scale":{"type":"log","domain":[0.2425,90.3],"nice":false},"axis":{"orient":"top","values":[2,20,40,60,80],"tickSize":-11,"labels":false,"title":null}},
    "y":{"field":"M","type":"quantitative","scale":{"domain":[-7.41,0.797],"reverse":true,"nice":false,"zero":false},"axis":{"orient":"right","values":[-7,-6,-5,-4,-3,-2,-1,0],"tickSize":-10,"labels":false,"title":null}}}},
  {"data":{"name":"bot"},"transform":[{"filter":"datum.t==='x'"}],"mark":{"type":"point","shape":"M -1 -1 L 1 1 M -1 1 L 1 -1","filled":false,"color":"#c8c8c8","strokeWidth":2.5,"size":135,"opacity":1},
   "encoding":{"x":{"field":"P","type":"quantitative","scale":{"type":"log","domain":[0.2425,90.3],"nice":false},"axis":{"orient":"bottom","values":[4,6,8,10,12,14,16,18,22,24,26,28,30,32,34,36,38,42,44,46,48,50,52,54,56,58,62,64,66,68,70,72,74,76,78,82,84,86,88],"tickSize":-6,"labels":false,"title":null}},
    "y":{"field":"M","type":"quantitative","scale":{"domain":[-7.41,0.797],"reverse":true,"nice":false,"zero":false},"axis":{"orient":"left","values":[-7.4,-7.2,-6.8,-6.6,-6.4,-6.2,-5.8,-5.6,-5.4,-5.2,-4.8,-4.6,-4.4,-4.2,-3.8,-3.6,-3.4,-3.2,-2.8,-2.6,-2.4,-2.2,-1.8,-1.6,-1.4,-1.2,-0.8,-0.6,-0.4,-0.2,0.2,0.4,0.6],"tickSize":-5,"labels":false,"title":null}}}},
  {"data":{"name":"bot"},"transform":[{"filter":"datum.t==='k'"}],"mark":{"type":"point","shape":"circle","filled":false,"color":"black","strokeWidth":5,"size":125,"opacity":1},
   "encoding":{"x":{"field":"P","type":"quantitative","scale":{"type":"log","domain":[0.2425,90.3],"nice":false},"axis":{"orient":"top","values":[4,6,8,10,12,14,16,18,22,24,26,28,30,32,34,36,38,42,44,46,48,50,52,54,56,58,62,64,66,68,70,72,74,76,78,82,84,86,88],"tickSize":-6,"labels":false,"title":null}},
    "y":{"field":"M","type":"quantitative","scale":{"domain":[-7.41,0.797],"reverse":true,"nice":false,"zero":false},"axis":{"orient":"right","values":[-7.4,-7.2,-6.8,-6.6,-6.4,-6.2,-5.8,-5.6,-5.4,-5.2,-4.8,-4.6,-4.4,-4.2,-3.8,-3.6,-3.4,-3.2,-2.8,-2.6,-2.4,-2.2,-1.8,-1.6,-1.4,-1.2,-0.8,-0.6,-0.4,-0.2,0.2,0.4,0.6],"tickSize":-5,"labels":false,"title":null}}}},
  {"data":{"name":"bot"},"transform":[{"filter":"datum.t==='d'"}],"mark":{"type":"circle","color":"black","size":45,"opacity":1}},
  {"data":{"name":"bot"},"transform":[{"filter":"datum.t==='g'"}],"mark":{"type":"circle","color":"#c8c8c8","size":180,"opacity":1}},
  {"data":{"name":"bot"},"transform":[{"filter":"datum.t==='c' && isValid(datum.lo)"}],"mark":{"type":"rule","color":"#00c4c4","strokeWidth":1.5},"encoding":{"y":{"field":"lo","type":"quantitative","scale":{"domain":[-7.41,0.797],"reverse":true,"nice":false,"zero":false},"axis":null},"y2":{"field":"hi"}}},
  {"data":{"name":"bot"},"transform":[{"filter":"datum.t==='c' && isValid(datum.lo)"}],"mark":{"type":"tick","orient":"horizontal","color":"#00c4c4","size":18,"thickness":1.5},"encoding":{"y":{"field":"lo","type":"quantitative","scale":{"domain":[-7.41,0.797],"reverse":true,"nice":false,"zero":false},"axis":null}}},
  {"data":{"name":"bot"},"transform":[{"filter":"datum.t==='c' && isValid(datum.lo)"}],"mark":{"type":"tick","orient":"horizontal","color":"#00c4c4","size":18,"thickness":1.5},"encoding":{"y":{"field":"hi","type":"quantitative","scale":{"domain":[-7.41,0.797],"reverse":true,"nice":false,"zero":false},"axis":null}}},
  {"data":{"name":"bot"},"transform":[{"filter":"datum.t==='c'"}],"mark":{"type":"circle","color":"#00c4c4","size":200,"opacity":1}},
  {"data":{"name":"lines"},"transform":[{"filter":"datum.panel==='BR'"}],"mark":{"type":"line","color":"#ff0000","strokeWidth":2.6}},
  {"data":{"name":"labels"},"transform":[{"filter":"datum.panel==='BR' && datum.kind==='title'"}],"mark":{"type":"text","align":"left","baseline":"alphabetic","fontSize":17,"font":"DejaVu Serif","color":"black"},"encoding":{"text":{"field":"txt"}}},
  {"data":{"name":"labels"},"transform":[{"filter":"datum.panel==='BR' && datum.kind==='a'"}],"mark":{"type":"text","align":"left","baseline":"alphabetic","fontSize":16,"font":"DejaVu Serif","color":"#ff0000"},"encoding":{"text":{"field":"txt"}}},
  {"data":{"name":"labels"},"transform":[{"filter":"datum.panel==='BR' && datum.kind==='b'"}],"mark":{"type":"text","align":"left","baseline":"alphabetic","fontSize":10,"font":"DejaVu Serif","color":"#ff0000","dx":57,"dy":4},"encoding":{"text":{"field":"txt"}}},
  {"data":{"name":"labels"},"transform":[{"filter":"datum.panel==='BR' && datum.kind==='c'"}],"mark":{"type":"text","align":"left","baseline":"alphabetic","fontSize":16,"font":"DejaVu Serif","color":"#ff0000","dx":90},"encoding":{"text":{"field":"txt"}}}
 ],
 "resolve":{"axis":{"x":"independent","y":"independent"}}}
]
}
